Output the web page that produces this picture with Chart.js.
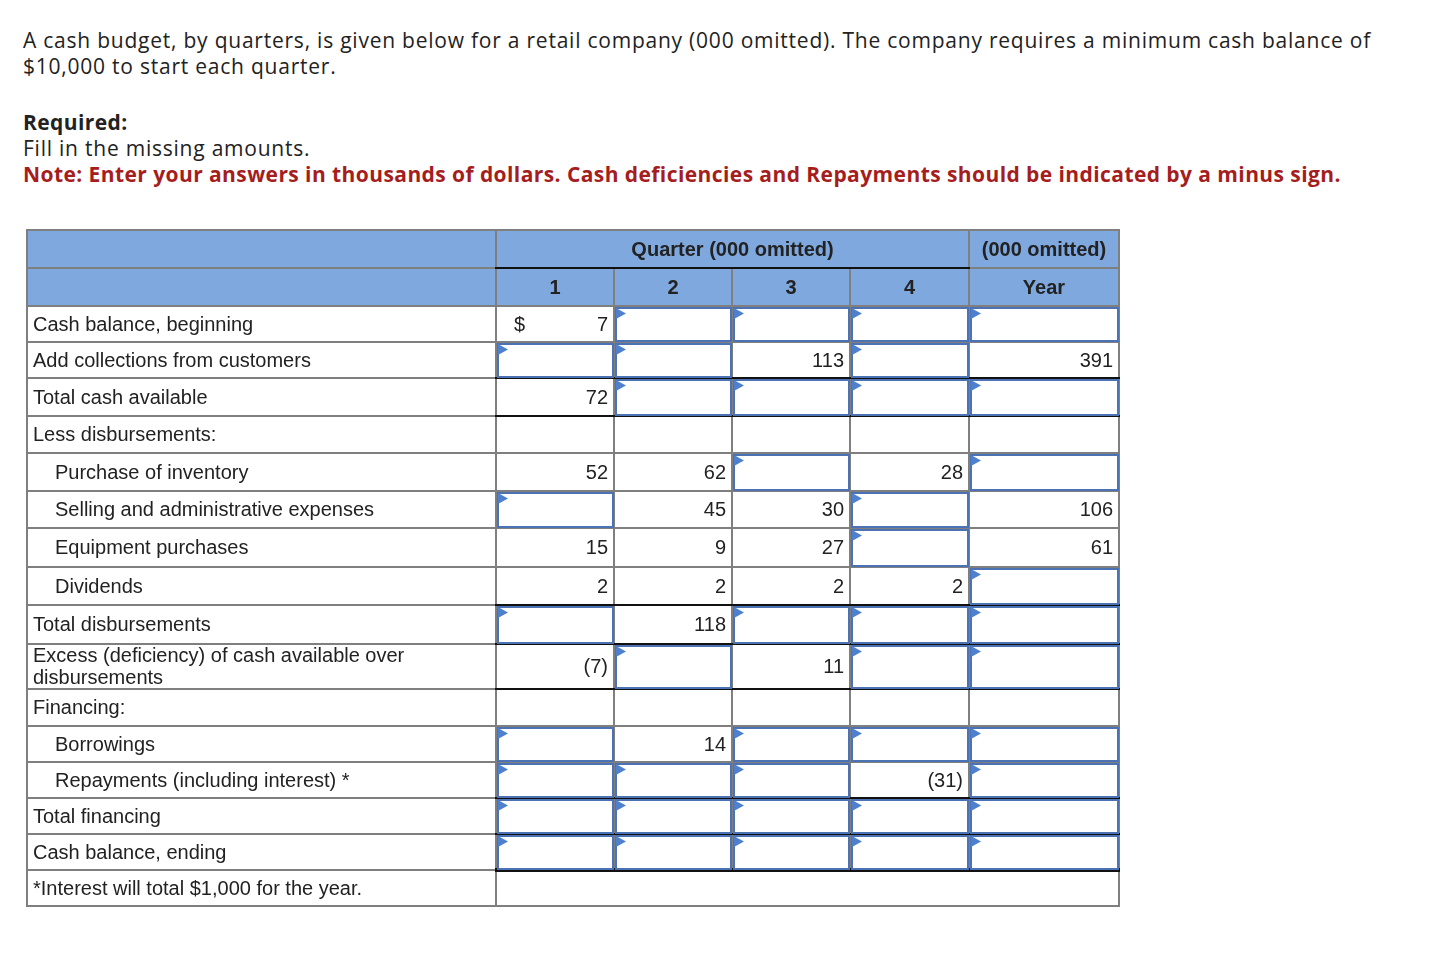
<!DOCTYPE html>
<html>
<head>
<meta charset="utf-8">
<script src="https://cdn.jsdelivr.net/npm/chart.js@4.4.1/dist/chart.umd.min.js"></script>
<style>
  body { margin: 0; background: #fff; width: 1454px; height: 980px; position: relative; font-family: "Open Sans", Lato, sans-serif; color: #222; }
  .intro { position: absolute; left: 23px; top: 27px; width: 1420px; font-size: 21px; line-height: 26px; letter-spacing: 0.77px; }
  .intro p { margin: 0; }
  .intro .req { margin-top: 30px; }
  .intro b { font-weight: 700; letter-spacing: 0.4px; }
  .intro .note { color: #a51d1d; font-weight: 700; letter-spacing: 0.42px; }
  #wrap { position: absolute; left: 20px; top: 224px; width: 1110px; height: 690px; }
</style>
</head>
<body>
<div class="intro">
  <p>A cash budget, by quarters, is given below for a retail company (000 omitted). The company requires a minimum cash balance of<br>$10,000 to start each quarter.</p>
  <p class="req"><b>Required:</b><br>Fill in the missing amounts.<br><span class="note">Note: Enter your answers in thousands of dollars. Cash deficiencies and Repayments should be indicated by a minus sign.</span></p>
</div>
<div id="wrap"><canvas id="budgetTable" width="1110" height="690"></canvas></div>
<script>
// ── data ──────────────────────────────────────────────────────────────────
// null = answer box to fill in, '' = empty cell
const rowLabels = [
  'Cash balance, beginning',
  'Add collections from customers',
  'Total cash available',
  'Less disbursements:',
  'Purchase of inventory',
  'Selling and administrative expenses',
  'Equipment purchases',
  'Dividends',
  'Total disbursements',
  'Excess (deficiency) of cash available over disbursements',
  'Financing:',
  'Borrowings',
  'Repayments (including interest) *',
  'Total financing',
  'Cash balance, ending'
];
const q1   = [7,    null, 72,   '', 52,   null, 15,   2,    null, -7,   '', null, null, null, null];
const q2   = [null, null, null, '', 62,   45,   9,    2,    118,  null, '', 14,   null, null, null];
const q3   = [null, 113,  null, '', null, 30,   27,   2,    null, 11,   '', null, null, null, null];
const q4   = [null, null, null, '', 28,   null, null, 2,    null, null, '', null, -31,  null, null];
const year = [null, 391,  null, '', null, 106,  61,   null, null, null, '', null, null, null, null];
const columnLabels = ['1', '2', '3', '4', 'Year'];
const groupLabels = ['Quarter (000 omitted)', '(000 omitted)'];
const footnote = '*Interest will total $1,000 for the year.';

// ── layout (table units = px from the table's top-left corner) ────────────
const colEdges = [0, 469, 587, 705, 823, 942, 1092];
const rowHeights = [38, 38, 36, 36, 38, 37, 38, 37, 39, 38, 39, 45, 37, 36, 36, 36, 36, 36];
const rowEdges = rowHeights.reduce((a, h) => (a.push(a[a.length - 1] + h), a), [0]);
const indented = [4, 5, 6, 7, 11, 12];
const ruleAfter = { 1: 2, 2: 2, 7: 2, 8: 2, 9: 2, 12: 2, 13: 2, 14: 4 };
const HEAD = 2;

const GRID = '#7f7f7f', HEADER_BG = '#7fa8df', BOX = '#4a72b4', TRI = '#4d80cf', INK = '#222';
const bodyFont = '20px "Liberation Sans", Arial, sans-serif';
const headFont = 'bold 20px "Liberation Sans", Arial, sans-serif';

const fmt = v => (typeof v === 'number' ? (v < 0 ? '(' + (-v) + ')' : String(v)) : v);

const tablePlugin = {
  id: 'cashTable',
  afterDraw(chart) {
    const ctx = chart.ctx;
    const X = v => chart.scales.x.getPixelForValue(v);
    const Y = v => chart.scales.y.getPixelForValue(v);
    const series = [q1, q2, q3, q4, year];
    const nRows = rowHeights.length;
    const left = colEdges[0], right = colEdges[colEdges.length - 1];

    ctx.save();
    // header fill
    ctx.fillStyle = HEADER_BG;
    ctx.fillRect(X(left), Y(rowEdges[0]), X(right) - X(left), Y(rowEdges[HEAD]) - Y(rowEdges[0]));

    const hline = (x0, x1, y, w, c) => {
      ctx.strokeStyle = c; ctx.lineWidth = w;
      ctx.beginPath(); ctx.moveTo(X(x0) - 1, Y(y)); ctx.lineTo(X(x1) + 1, Y(y)); ctx.stroke();
    };
    const vline = (x, y0, y1, w, c) => {
      ctx.strokeStyle = c; ctx.lineWidth = w;
      ctx.beginPath(); ctx.moveTo(X(x), Y(y0)); ctx.lineTo(X(x), Y(y1)); ctx.stroke();
    };

    // grey grid
    for (let r = 0; r <= nRows; r++) hline(left, right, rowEdges[r], 2, GRID);
    for (let c = 0; c < colEdges.length; c++) {
      for (let r = 0; r < nRows; r++) {
        const inner = c >= 2 && c <= 5;
        if (r === 0 && c >= 2 && c <= 4) continue;      // quarter group header
        if (r === nRows - 1 && inner) continue;          // footnote row
        vline(colEdges[c], rowEdges[r], rowEdges[r + 1], 2, GRID);
      }
    }
    // black rules
    hline(colEdges[1], colEdges[5], rowEdges[1], 2, '#111');
    Object.keys(ruleAfter).forEach(k => {
      const y = rowEdges[HEAD + Number(k) + 1];
      hline(colEdges[1], right, y, ruleAfter[k], '#111');
    });

    // header text
    ctx.fillStyle = INK; ctx.font = headFont; ctx.textBaseline = 'middle'; ctx.textAlign = 'center';
    const midY = r => (Y(rowEdges[r]) + Y(rowEdges[r + 1])) / 2 + 1;
    ctx.fillText(groupLabels[0], (X(colEdges[1]) + X(colEdges[5])) / 2, midY(0));
    ctx.fillText(groupLabels[1], (X(colEdges[5]) + X(colEdges[6])) / 2, midY(0));
    columnLabels.forEach((t, i) => ctx.fillText(t, (X(colEdges[i + 1]) + X(colEdges[i + 2])) / 2, midY(1)));

    // body
    ctx.font = bodyFont;
    rowLabels.forEach((label, i) => {
      const r = HEAD + i;
      const y0 = Y(rowEdges[r]), y1 = Y(rowEdges[r + 1]), my = (y0 + y1) / 2 + 1;
      // label, word wrapped
      ctx.textAlign = 'left'; ctx.fillStyle = INK;
      const lx = X(colEdges[0]) + (indented.includes(i) ? 28 : 6);
      const maxW = X(colEdges[1]) - lx - 8;
      const lines = [];
      label.split(' ').forEach(w => {
        const cur = lines.length ? lines[lines.length - 1] : null;
        if (cur !== null && ctx.measureText(cur + ' ' + w).width <= maxW) lines[lines.length - 1] = cur + ' ' + w;
        else lines.push(w);
      });
      const lh = 22;
      lines.forEach((t, k) => ctx.fillText(t, lx, my + (k - (lines.length - 1) / 2) * lh));

      series.forEach((s, c) => {
        const v = s[i];
        const x0 = X(colEdges[c + 1]), x1 = X(colEdges[c + 2]);
        if (v === null) {
          ctx.fillStyle = '#fff';
          ctx.fillRect(x0 + 2, y0 + 2, x1 - x0 - 3, y1 - y0 - 3);
          ctx.strokeStyle = BOX; ctx.lineWidth = 2;
          ctx.strokeRect(x0 + 2, y0 + 2, x1 - x0 - 3, y1 - y0 - 3);
          ctx.fillStyle = TRI;
          ctx.beginPath(); ctx.moveTo(x0 + 2, y0 + 2); ctx.lineTo(x0 + 12, y0 + 7.5); ctx.lineTo(x0 + 2, y0 + 13); ctx.closePath(); ctx.fill();
        } else if (v !== '') {
          ctx.fillStyle = INK; ctx.textAlign = 'right';
          ctx.fillText(fmt(v), x1 - 6, my);
          if (i === 0 && c === 0) { ctx.textAlign = 'left'; ctx.fillText('$', x0 + 18, my); }
        }
      });
    });

    // footnote row
    const fr = nRows - 1;
    ctx.textAlign = 'left'; ctx.fillStyle = INK;
    ctx.fillText(footnote, X(colEdges[0]) + 6, (Y(rowEdges[fr]) + Y(rowEdges[fr + 1])) / 2 + 1);
    ctx.restore();
  }
};

new Chart(document.getElementById('budgetTable'), {
  type: 'scatter',
  data: { datasets: [] },
  options: {
    responsive: false,
    animation: false,
    layout: { padding: 0 },
    plugins: { legend: { display: false }, tooltip: { enabled: false } },
    scales: {
      x: { type: 'linear', min: -7, max: 1103, display: false },
      y: { type: 'linear', min: -6, max: 684, reverse: true, display: false }
    }
  },
  plugins: [tablePlugin]
});
</script>
</body>
</html>
